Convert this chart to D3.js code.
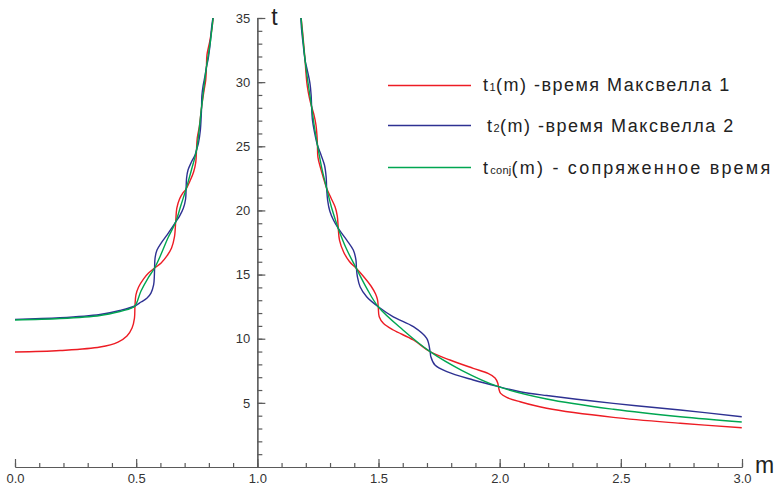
<!DOCTYPE html>
<html>
<head>
<meta charset="utf-8" />
<style>
  body { margin: 0; background: #fff; }
  svg { display: block; font-family: "Liberation Sans", Arial, sans-serif; }
  .axis path, .axis line { stroke: #5a5a5a; stroke-width: 1.2; }
  .axis text { fill: #333; font-size: 13px; }
  .curve { fill: none; stroke-width: 1.4; }
  .legend text { font-size: 18px; fill: #222; }
</style>
</head>
<body>
<div id="chart"></div>
<script src="https://cdn.jsdelivr.net/npm/d3@7"></script>
<script>
// [m, t] points, ordered along each curve
var t1Left = [[0,8.96],[0.186,9.08],[0.351,9.35],[0.425,9.74],[0.462,10.21],[0.483,10.83],[0.493,11.61],[0.495,12.55],
  [0.499,13.41],[0.510,14.03],[0.530,14.65],[0.551,15.12],[0.576,15.51],[0.603,15.90],[0.627,16.45],[0.646,17.07],
  [0.658,17.93],[0.663,19.10],[0.668,20.19],[0.679,20.89],[0.693,21.36],[0.706,21.67],[0.722,22.29],[0.737,22.99],
  [0.746,23.77],[0.749,24.71],[0.752,25.64],[0.761,26.58],[0.770,28.06],[0.779,29.23],[0.787,30.16],[0.790,31.18],
  [0.792,32.11],[0.803,33.12],[0.813,34.21],[0.819,35.31]];
var t2Left = [[0,11.51],[0.186,11.63],[0.351,11.89],[0.433,12.20],[0.495,12.55],[0.520,12.86],[0.544,13.15],[0.561,13.56],
  [0.572,14.19],[0.575,14.89],[0.576,15.51],[0.578,16.29],[0.586,16.91],[0.603,17.46],[0.627,18.08],[0.650,18.71],
  [0.663,19.10],[0.679,19.56],[0.695,20.19],[0.704,20.89],[0.706,21.67],[0.708,22.52],[0.714,23.15],[0.728,23.77],
  [0.743,24.32],[0.749,24.71],[0.757,25.25],[0.765,26.27],[0.768,27.20],[0.770,28.06],[0.771,28.92],[0.776,29.70],
  [0.784,30.48],[0.790,31.18],[0.797,31.80],[0.806,33.12],[0.811,34.21],[0.819,35.31]];
var tConjLeft = [[0,11.46],[0.186,11.57],[0.351,11.81],[0.433,12.12],[0.475,12.35],[0.495,12.55],[0.520,13.72],
  [0.549,14.73],[0.576,15.51],[0.603,16.60],[0.631,17.85],[0.663,19.10],[0.685,20.42],[0.706,21.67],[0.728,23.15],
  [0.749,24.71],[0.770,28.06],[0.790,31.18],[0.807,33.28],[0.819,35.31]];

var t1Right = [[1.179,35.31],[1.186,34.06],[1.192,32.81],[1.197,31.72],[1.201,30.63],[1.206,29.70],[1.215,28.76],
  [1.224,28.08],[1.234,27.43],[1.242,26.66],[1.246,25.88],[1.248,25.10],[1.250,24.16],[1.261,23.30],[1.274,22.45],
  [1.286,21.72],[1.304,20.97],[1.321,20.26],[1.330,19.56],[1.334,18.60],[1.339,17.69],[1.356,16.76],[1.380,16.02],
  [1.409,15.47],[1.440,14.81],[1.469,14.11],[1.488,13.48],[1.496,13.02],[1.499,12.49],[1.503,11.71],[1.520,11.20],
  [1.561,10.68],[1.644,9.90],[1.713,8.99],[1.795,8.34],[1.891,7.69],[1.952,7.29],[1.981,6.94],[1.992,6.55],
  [1.995,6.26],[1.998,6.00],[2.004,5.74],[2.029,5.43],[2.084,5.09],[2.194,4.58],[2.469,3.87],[2.745,3.41],[2.999,3.06]];
var t2Right = [[1.179,35.31],[1.182,34.22],[1.189,32.97],[1.197,31.72],[1.207,30.86],[1.217,29.93],[1.222,28.99],
  [1.224,28.08],[1.227,27.12],[1.235,26.19],[1.248,25.10],[1.263,24.32],[1.277,23.54],[1.284,22.60],[1.286,21.72],
  [1.290,20.81],[1.299,19.95],[1.314,19.25],[1.334,18.60],[1.369,17.69],[1.396,16.91],[1.407,16.13],[1.409,15.47],
  [1.413,14.83],[1.424,14.05],[1.451,13.27],[1.499,12.49],[1.561,11.71],[1.644,10.94],[1.699,10.03],[1.713,8.99],
  [1.716,8.60],[1.733,7.95],[1.782,7.43],[1.891,6.78],[1.995,6.26],[2.084,5.87],[2.194,5.57],[2.469,4.96],
  [2.745,4.44],[2.999,3.92]];
var tConjRight = [[1.179,35.31],[1.188,33.44],[1.197,31.72],[1.210,29.85],[1.224,28.08],[1.235,26.58],[1.248,25.10],
  [1.265,23.38],[1.286,21.72],[1.308,20.11],[1.334,18.60],[1.368,16.99],[1.409,15.47],[1.451,13.95],[1.499,12.49],
  [1.601,10.68],[1.713,8.99],[1.845,7.52],[1.995,6.26],[2.194,5.30],[2.469,4.50],[2.745,3.92],[2.999,3.51]];

var seriesColors = ["#ed1c24", "#2e3192", "#00a651"];
var legendParts = [["t", "1", "(m) -время Максвелла 1"],
                   ["t", "2", "(m) -время Максвелла 2"],
                   ["t", "conj", "(m) - сопряженное время"]];
var xTicks = [0, 0.5, 1, 1.5, 2, 2.5, 3];
var yTicks = [5, 10, 15, 20, 25, 30, 35];

var width = 775, height = 486;

var x = d3.scaleLinear().domain([0, 3]).range([15, 742]);
var y = d3.scaleLinear().domain([0, 35]).range([467, 18]);

var svg = d3.select('#chart').append('svg')
  .attr('width', width)
  .attr('height', height);

svg.append('clipPath').attr('id', 'plot')
  .append('rect')
  .attr('x', x(0)).attr('y', y(35))
  .attr('width', x(3) - x(0)).attr('height', y(0) - y(35));

// x axis: minor then major ticks, pointing up
svg.append('g').attr('class', 'axis')
  .attr('transform', 'translate(0,' + y(0) + ')')
  .call(d3.axisBottom(x).tickValues(d3.range(0, 31).map(function(i) { return i / 10; }))
    .tickSizeInner(-4).tickSizeOuter(0).tickFormat(''));
svg.append('g').attr('class', 'axis')
  .attr('transform', 'translate(0,' + y(0) + ')')
  .call(d3.axisBottom(x).tickValues(xTicks).tickSizeInner(-8).tickSizeOuter(0)
    .tickPadding(7).tickFormat(d3.format('.1f')));

// y axis at m = 1, ticks pointing right
svg.append('g').attr('class', 'axis')
  .attr('transform', 'translate(' + x(1) + ',0)')
  .call(d3.axisLeft(y).tickValues(d3.range(1, 36)).tickSizeInner(-5).tickSizeOuter(0).tickFormat(''));
svg.append('g').attr('class', 'axis')
  .attr('transform', 'translate(' + x(1) + ',0)')
  .call(d3.axisLeft(y).tickValues(yTicks).tickSizeInner(-8).tickSizeOuter(0).tickPadding(7));

svg.append('text').attr('x', x(1) + 14).attr('y', y(35) + 7)
  .style('font-size', '23px').style('fill', '#222').text('t');
svg.append('text').attr('x', x(3) + 13).attr('y', y(0) + 6)
  .style('font-size', '23px').style('fill', '#222').text('m');

var line = d3.line()
  .x(function(d) { return x(d[0]); })
  .y(function(d) { return y(d[1]); })
  .curve(d3.curveCatmullRom.alpha(0.5));

var curves = [
  { data: t1Left, c: 0 }, { data: t1Right, c: 0 },
  { data: t2Left, c: 1 }, { data: t2Right, c: 1 },
  { data: tConjLeft, c: 2 }, { data: tConjRight, c: 2 }
];

svg.append('g').attr('clip-path', 'url(#plot)')
  .selectAll('path')
  .data(curves)
  .enter()
  .append('path')
  .attr('class', 'curve')
  .attr('d', function(d) { return line(d.data); })
  .attr('stroke', function(d) { return seriesColors[d.c]; });

// legend
var legendY = [85.5, 125.5, 167.5];
var legendTextX = [483, 487, 483];
var legendTextDy = [5, 6, 6];
var legendSpacing = [1.5, 1.5, 2.2];

var legend = svg.append('g').attr('class', 'legend');
legendParts.forEach(function(p, i) {
  legend.append('line')
    .attr('x1', 388).attr('x2', 471)
    .attr('y1', legendY[i]).attr('y2', legendY[i])
    .attr('stroke', seriesColors[i]).attr('stroke-width', 1.6);
  var txt = legend.append('text')
    .attr('x', legendTextX[i]).attr('y', legendY[i] + legendTextDy[i])
    .style('letter-spacing', legendSpacing[i] + 'px');
  txt.append('tspan').text(p[0]);
  txt.append('tspan').style('font-size', '11px').style('letter-spacing', '0.3px').text(p[1]);
  txt.append('tspan').text(p[2]);
});
</script>
</body>
</html>
